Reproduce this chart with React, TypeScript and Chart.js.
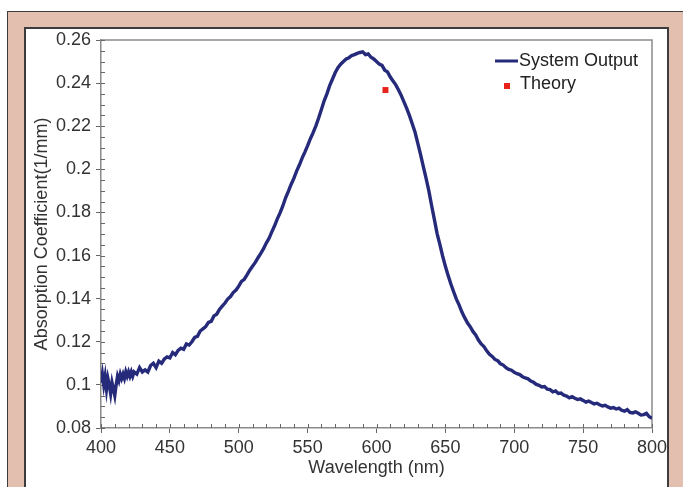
import React, { useEffect, useRef } from "react";
import { Chart, registerables } from "chart.js";

Chart.register(...registerables);

// ---- Data ----
const wavelengths = [
  400, 401, 402, 403, 404, 405, 406, 407, 408, 409, 410, 411, 412, 413, 414, 415, 416, 417, 418, 419, 420, 421, 422, 423, 424,
  426, 428, 430, 432, 434, 436, 438, 440, 442, 444, 446, 448, 450, 452, 454, 456, 458, 460, 462, 464, 466, 468, 470, 472, 474,
  476, 478, 480, 482, 484, 486, 488, 490, 492, 494, 496, 498, 500, 502, 504, 506, 508, 510, 512, 514, 516, 518, 520, 522, 524,
  526, 528, 530, 532, 534, 536, 538, 540, 542, 544, 546, 548, 550, 552, 554, 556, 558, 560, 562, 564, 566, 568, 570, 572, 574,
  576, 578, 580, 582, 584, 586, 588, 590, 592, 594, 596, 598, 600, 602, 604, 606, 608, 610, 612, 614, 616, 618, 620, 622, 624,
  626, 628, 630, 632, 634, 636, 638, 640, 642, 644, 646, 648, 650, 652, 654, 656, 658, 660, 662, 664, 666, 668, 670, 672, 674,
  676, 678, 680, 682, 684, 686, 688, 690, 692, 694, 696, 698, 700, 702, 704, 706, 708, 710, 712, 714, 716, 718, 720, 722, 724,
  726, 728, 730, 732, 734, 736, 738, 740, 742, 744, 746, 748, 750, 752, 754, 756, 758, 760, 762, 764, 766, 768, 770, 772, 774,
  776, 778, 780, 782, 784, 786, 788, 790, 792, 794, 796, 798, 800,
];

const systemOutput = [
  0.101, 0.105, 0.1, 0.104, 0.098, 0.103, 0.1, 0.096, 0.101, 0.098, 0.095, 0.1, 0.104, 0.102, 0.105, 0.103, 0.105, 0.103, 0.106, 0.104, 0.106, 0.104, 0.106, 0.104, 0.106,
  0.105, 0.108, 0.106, 0.107, 0.106, 0.109, 0.11, 0.108, 0.111, 0.11, 0.112, 0.113, 0.1125, 0.115, 0.114, 0.116, 0.117, 0.1165, 0.119, 0.1185, 0.12, 0.122, 0.1225, 0.125, 0.126,
  0.127, 0.129, 0.1295, 0.132, 0.1328, 0.135, 0.1365, 0.138, 0.1398, 0.141, 0.1428, 0.144, 0.1458, 0.148, 0.149, 0.151, 0.1532, 0.155, 0.1568, 0.159, 0.161, 0.1632, 0.1658, 0.168, 0.171,
  0.1738, 0.177, 0.1798, 0.183, 0.1868, 0.1898, 0.193, 0.1958, 0.1992, 0.202, 0.2052, 0.208, 0.211, 0.2142, 0.217, 0.2202, 0.2238, 0.2278, 0.2318, 0.235, 0.2388, 0.2418, 0.2448, 0.2472, 0.2488,
  0.25, 0.2512, 0.2518, 0.2528, 0.2532, 0.2538, 0.2542, 0.2545, 0.2532, 0.2535, 0.252, 0.2512, 0.25, 0.2488, 0.2482, 0.246, 0.2452, 0.2428, 0.241, 0.2392, 0.2368, 0.2342, 0.2312, 0.2282, 0.2248,
  0.221, 0.2172, 0.212, 0.2068, 0.2012, 0.1958, 0.19, 0.1832, 0.1768, 0.1702, 0.1652, 0.1598, 0.155, 0.1508, 0.1468, 0.1432, 0.1398, 0.137, 0.1338, 0.1312, 0.1288, 0.127, 0.1248, 0.1232, 0.1208,
  0.119, 0.1178, 0.1158, 0.1142, 0.1132, 0.1118, 0.1112, 0.1098, 0.1092, 0.108, 0.1072, 0.1068, 0.1058, 0.1052, 0.1048, 0.1038, 0.1032, 0.1028, 0.1018, 0.1012, 0.1002, 0.0998, 0.099, 0.0992, 0.098,
  0.0978, 0.0968, 0.0972, 0.096, 0.0962, 0.0952, 0.0948, 0.094, 0.0945, 0.0938, 0.0932, 0.0935, 0.0928, 0.092, 0.0925, 0.0918, 0.0912, 0.0915, 0.0908, 0.0902, 0.0905, 0.0898, 0.0892, 0.0895, 0.0888,
  0.0892, 0.0882, 0.0878, 0.0885, 0.0872, 0.087, 0.0875, 0.0868, 0.086, 0.0862, 0.0868, 0.0852, 0.0845,
];

const theoryWavelengths = [606.5];
const theoryValues = [0.2368];

const xMin = 400;
const xMax = 800;
const xStep = 50;
const xMinorStep = 10;
const yMin = 0.08;
const yMax = 0.26;
const yStep = 0.02;
const yMinorStep = 0.005;

const seriesLabels = ["System Output", "Theory"];
const xTitle = "Wavelength (nm)";
const yTitle = "Absorption Coefficient(1/mm)";

// ---- Styles ----
const LINE_COLOR = "#262a7a";
const THEORY_COLOR = "#e8231c";
const AXIS_COLOR = "#8a8a8a";
const TEXT_COLOR = "#333333";
const FONT_FAMILY = "'Liberation Sans', Arial, Helvetica, sans-serif";
const FONT_SIZE = 18;

const frameAndLegend = {
  id: "frameAndLegend",
  beforeDatasetsDraw(chart: any) {
    const { ctx, chartArea, scales } = chart;
    const { left, right, top, bottom } = chartArea;
    ctx.save();
    ctx.strokeStyle = AXIS_COLOR;
    ctx.lineWidth = 1.5;
    ctx.beginPath();
    ctx.moveTo(left, top);
    ctx.lineTo(right, top);
    ctx.lineTo(right, bottom);
    ctx.stroke();
    ctx.lineWidth = 1;
    ctx.strokeStyle = "#666";
    ctx.beginPath();
    const nx = Math.round((xMax - xMin) / xMinorStep);
    for (let i = 0; i <= nx; i++) {
      const v = xMin + i * xMinorStep;
      const px = Math.round(scales.x.getPixelForValue(v)) + 0.5;
      ctx.moveTo(px, bottom);
      ctx.lineTo(px, bottom - 4);
    }
    const ny = Math.round((yMax - yMin) / yMinorStep);
    for (let i = 0; i <= ny; i++) {
      const v = yMin + i * yMinorStep;
      const py = Math.round(scales.y.getPixelForValue(v)) + 0.5;
      ctx.moveTo(left, py);
      ctx.lineTo(left + 4, py);
    }
    ctx.stroke();
    ctx.restore();
  },
  afterDraw(chart: any) {
    const { ctx } = chart;
    ctx.save();
    ctx.strokeStyle = LINE_COLOR;
    ctx.lineWidth = 3;
    ctx.beginPath();
    ctx.moveTo(495, 61);
    ctx.lineTo(518, 61);
    ctx.stroke();
    ctx.fillStyle = THEORY_COLOR;
    ctx.fillRect(504, 83, 6, 6);
    ctx.fillStyle = "#222";
    ctx.font = `${FONT_SIZE}px ${FONT_FAMILY}`;
    ctx.textBaseline = "middle";
    ctx.textAlign = "left";
    ctx.fillText(seriesLabels[0], 519, 61);
    ctx.fillText(seriesLabels[1], 520, 84);
    ctx.restore();
  },
};

function SpectrumChart() {
  const ref = useRef<HTMLCanvasElement | null>(null);
  useEffect(() => {
    if (!ref.current) return;
    const lineData = wavelengths.map((w, i) => ({ x: w, y: systemOutput[i] }));
    const theoryData = theoryWavelengths.map((w, i) => ({ x: w, y: theoryValues[i] }));
    const font = { family: FONT_FAMILY, size: FONT_SIZE };
    const chart = new Chart(ref.current, {
      type: "line",
      data: {
        datasets: [
          {
            label: seriesLabels[0],
            data: lineData,
            borderColor: LINE_COLOR,
            borderWidth: 3.4,
            pointRadius: 0,
            tension: 0,
            fill: false,
          },
          {
            label: seriesLabels[1],
            data: theoryData,
            showLine: false,
            pointStyle: "rect",
            pointRadius: 4.2,
            pointBorderWidth: 0,
            pointBackgroundColor: THEORY_COLOR,
            borderColor: THEORY_COLOR,
            backgroundColor: THEORY_COLOR,
          },
        ],
      },
      options: {
        animation: false,
        responsive: true,
        maintainAspectRatio: false,
        layout: { padding: { left: 0, top: 40, right: 31, bottom: 0 } },
        plugins: { legend: { display: false }, tooltip: { enabled: false } },
        scales: {
          x: {
            type: "linear",
            min: xMin,
            max: xMax,
            afterFit: (s: any) => {
              s.height = 59;
            },
            ticks: { stepSize: xStep, font, color: TEXT_COLOR, padding: 4, maxRotation: 0 },
            grid: { display: true, drawOnChartArea: false, drawTicks: true, tickLength: 5, color: "#666" },
            border: { display: true, color: AXIS_COLOR, width: 1.5 },
            title: { display: true, text: xTitle, font, color: TEXT_COLOR, padding: { top: 0, bottom: 8 } },
          },
          y: {
            type: "linear",
            min: yMin,
            max: yMax,
            afterFit: (s: any) => {
              s.width = 101;
            },
            ticks: {
              stepSize: yStep,
              font,
              color: TEXT_COLOR,
              padding: 5,
              callback: (v: any) => String(parseFloat(Number(v).toFixed(4))),
            },
            grid: { display: true, drawOnChartArea: false, drawTicks: true, tickLength: 5, color: "#666" },
            border: { display: true, color: AXIS_COLOR, width: 1.5 },
            title: { display: true, text: yTitle, font, color: TEXT_COLOR, padding: { top: 31, bottom: 0 } },
          },
        },
      },
      plugins: [frameAndLegend],
    });
    return () => chart.destroy();
  }, []);
  return <canvas ref={ref} />;
}

export default function App() {
  return (
    <div style={{ position: "fixed", left: 0, top: 0, width: 683, height: 487, background: "#fff", overflow: "hidden" }}>
      <div
        style={{
          position: "absolute",
          left: 7,
          top: 11,
          width: 700,
          height: 520,
          background: "#e2bfae",
          borderLeft: "1px solid #3c3c3c",
          borderTop: "1px solid #3c3c3c",
          boxSizing: "border-box",
        }}
      />
      <div
        style={{
          position: "absolute",
          left: 24,
          top: 27,
          width: 645,
          height: 520,
          background: "#fff",
          border: "2px solid #3c3c3c",
          boxSizing: "border-box",
        }}
      />
      <div style={{ position: "absolute", left: 0, top: 0, width: 683, height: 487 }}>
        <SpectrumChart />
      </div>
    </div>
  );
}
